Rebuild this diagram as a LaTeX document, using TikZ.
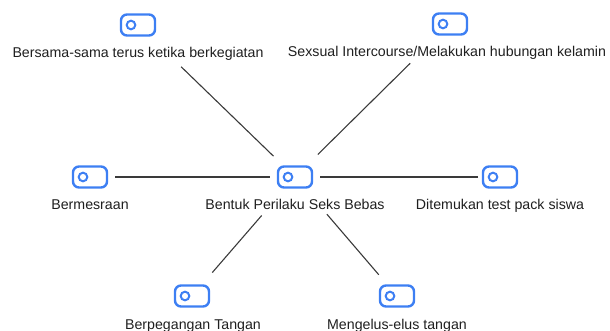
\documentclass[tikz,border=0pt]{standalone}
\usepackage{fontspec}
\setmainfont{Liberation Sans}
\definecolor{iconblue}{HTML}{3D7FF3}
\definecolor{linegray}{HTML}{3A3A3A}
\begin{document}
\begin{tikzpicture}[x=1pt,y=-1pt,
  icon/.style={draw=iconblue, line width=2.4pt, rounded corners=6pt,
    minimum width=34pt, minimum height=21pt, inner sep=0pt},
  lbl/.style={anchor=base, font=\fontsize{14.2}{16}\selectfont, text=black!88, inner sep=0pt},
  conn/.style={draw=linegray, line width=1.1pt}]
\useasboundingbox (0,0) rectangle (610,331);
% icons
\node[icon] (c)  at (295,177) {};
\node[icon] (tl) at (138,25) {};
\node[icon] (tr) at (450,24) {};
\node[icon] (l)  at (90,177) {};
\node[icon] (r)  at (500,177) {};
\node[icon] (bl) at (192,296) {};
\node[icon] (br) at (397,296) {};
\foreach \n in {c,tl,tr,l,r,bl,br}{
  \draw[iconblue, line width=2pt] ([xshift=-7pt]\n.center) circle (4.3pt);
}
% labels
\node[lbl] (lc)  at (295,210) {Bentuk Perilaku Seks Bebas};
\node[lbl] (ltl) at (138,58) {Bersama-sama terus ketika berkegiatan};
\node[lbl] (ltr) at (447,57) {Sexsual Intercourse/Melakukan hubungan kelamin};
\node[lbl] (ll)  at (90,210) {Bermesraan};
\node[lbl] (lr)  at (500,210) {Ditemukan test pack siswa};
\node[lbl] (lbl) at (193,329) {Berpegangan Tangan};
\node[lbl] (lbr) at (397,329) {Mengelus-elus tangan};
% connectors
\draw[conn, shorten <=60pt, shorten >=30pt] (tl.center) -- (c.center);
\draw[conn, shorten <=56pt, shorten >=32pt] (tr.center) -- (c.center);
\draw[conn, shorten <=25pt, shorten >=25pt] (l.center) -- (c.center);
\draw[conn, shorten <=22pt, shorten >=25pt] (r.center) -- (c.center);
\draw[conn, shorten <=51pt, shorten >=31pt] (c.center) -- (bl.center);
\draw[conn, shorten <=49pt, shorten >=28pt] (c.center) -- (br.center);
\end{tikzpicture}
\end{document}
